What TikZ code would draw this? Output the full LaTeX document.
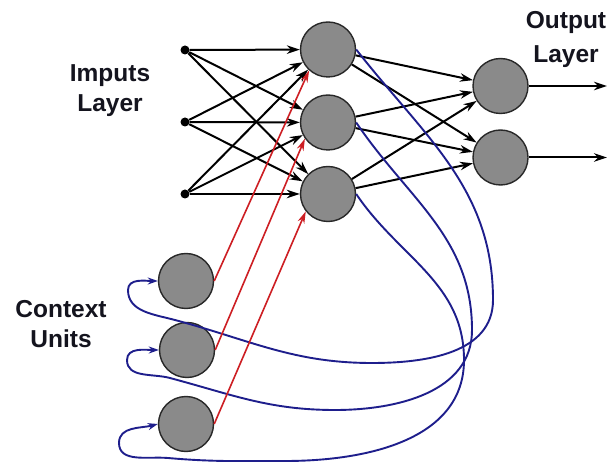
\documentclass[tikz,border=0pt]{standalone}
\usepackage{fontspec}
\setmainfont{Liberation Sans}
\usetikzlibrary{arrows.meta}
\definecolor{nfill}{RGB}{138,138,138}
\definecolor{nedge}{RGB}{40,40,40}
\definecolor{fbblue}{RGB}{30,30,140}
\definecolor{recred}{RGB}{205,30,35}
\definecolor{txt}{RGB}{20,20,30}
\begin{document}
\begin{tikzpicture}[x=1pt,y=1pt,
  neuron/.style={circle,draw=nedge,line width=1.4pt,fill=nfill,minimum size=55pt,inner sep=0pt},
  indot/.style={circle,fill=black,minimum size=9pt,inner sep=0pt},
  conn/.style={draw=black,line width=2pt,-{Stealth[length=13pt,width=8.5pt]}},
  rec/.style={draw=recred,line width=1.6pt,-{Stealth[length=12pt,width=7pt]}},
  fb/.style={draw=fbblue,line width=1.9pt,-{Stealth[length=10pt,width=7pt]}},
  lbl/.style={font=\bfseries\fontsize{24.5}{30}\selectfont,text=txt,align=center,inner sep=0pt}]
\useasboundingbox (0,0) rectangle (608,-462);
\fill[white] (0,0) rectangle (608,-462);

% nodes
\node[indot] (i1) at (185,-50) {};
\node[indot] (i2) at (185,-122) {};
\node[indot] (i3) at (185,-194) {};
\node[neuron] (h1) at (328,-49.5) {};
\node[neuron] (h2) at (328,-122.5) {};
\node[neuron] (h3) at (328,-194) {};
\node[neuron] (o1) at (500.5,-86) {};
\node[neuron] (o2) at (500.5,-157.5) {};
\node[neuron] (c1) at (186,-281) {};
\node[neuron] (c2) at (187,-350) {};
\node[neuron] (c3) at (186,-424) {};
\coordinate (y1) at (607,-86);
\coordinate (y2) at (607,-157.5);

% labels
\node[lbl] (inlbl) at (110,-91) {Imputs\\Layer};
\node[lbl] (ctxlbl) at (61,-324) {Context\\Units};
\node[lbl,font=\bfseries\fontsize{24.5}{34}\selectfont] (outlbl) at (566,-39.5) {Output\\Layer};

% input -> hidden
\foreach \i in {1,2,3}{
  \foreach \j in {1,2,3}{
    \draw[conn] (i\i) -- (h\j);
  }
}
% hidden -> output
\foreach \j in {1,2,3}{
  \foreach \k in {1,2}{
    \draw[conn] (h\j) -- (o\k);
  }
}
% outputs
\draw[conn] (o1) -- (y1);
\draw[conn] (o2) -- (y2);

% feedback (hidden -> context)
\draw[fb] (h1.east) to[out=-52,in=90] (493,-300) to[out=-90,in=0] (372,-363)
  to[out=180,in=-15] (175,-320) to[out=165,in=-90] (128,-290) to[out=90,in=180] (c1.west);
\draw[fb] (h2.east) to[out=-56,in=90] (472,-330) to[out=-90,in=0] (335,-410)
  to[out=180,in=-15] (170,-378) to[out=165,in=-90] (127,-360) to[out=90,in=180] (c2.west);
\draw[fb] (h3.east) to[out=-56,in=90] (464,-360) to[out=-90,in=0] (285,-461)
  to[out=180,in=-5] (168,-458) to[out=175,in=-90] (119,-443) to[out=90,in=195] (c3.west);

% context -> hidden
\draw[rec] (c1.east) -- (h1.228);
\draw[rec] (c2.east) -- (h2.215);
\draw[rec] (c3.east) -- (h3.218);
\end{tikzpicture}
\end{document}
